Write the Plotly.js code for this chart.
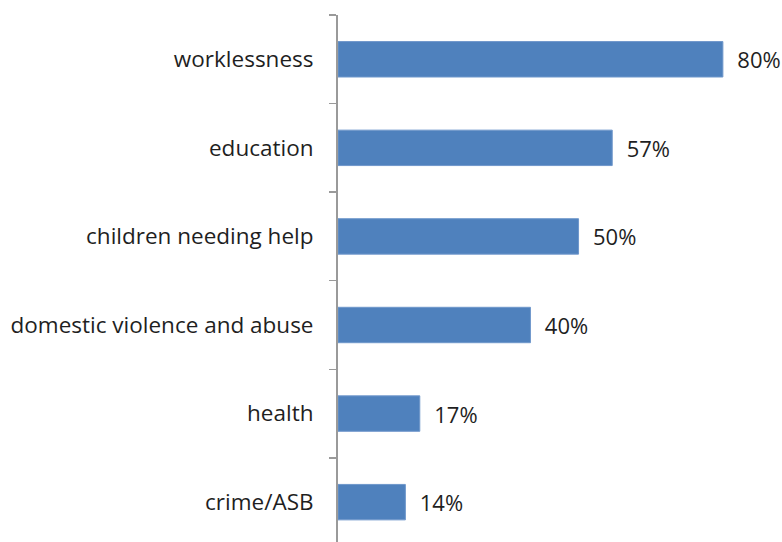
<!DOCTYPE html>
<html>
<head>
<meta charset="utf-8">
<script src="https://cdn.plot.ly/plotly-3.0.1.min.js"></script>
<style>html,body{margin:0;padding:0;background:#fff;}#chart{width:782px;height:542px;}</style>
</head>
<body>
<div id="chart"></div>
<script>
const categories = ["crime/ASB", "health", "domestic violence and abuse", "children needing help", "education", "worklessness"];
const values = [14, 17, 40, 50, 57, 80];
const labels = values.map(v => v + "%");

const FONT = "Open Sans, Liberation Sans, Arial, sans-serif";

const trace = {
  type: "bar",
  orientation: "h",
  y: categories,
  x: values,
  text: labels,
  texttemplate: "  %{text}",
  textposition: "outside",
  cliponaxis: false,
  textfont: {family: FONT, size: 22, color: "#1f1f1f"},
  marker: {color: "#4f81bd", line: {color: "#6f97cb", width: 1}},
  width: 0.4,
  hoverinfo: "none"
};

const layout = {
  width: 782,
  height: 542,
  margin: {l: 338, r: 11, t: 15, b: 0, pad: 0},
  paper_bgcolor: "#ffffff",
  plot_bgcolor: "#ffffff",
  showlegend: false,
  font: {family: FONT, size: 22, color: "#1f1f1f"},
  xaxis: {
    range: [0, 90],
    visible: false,
    showgrid: false,
    zeroline: false
  },
  yaxis: {
    type: "category",
    range: [-0.45, 5.5],
    showline: true,
    linecolor: "#9a9a9a",
    linewidth: 2,
    ticks: "outside",
    tickson: "boundaries",
    ticklen: 7,
    tickwidth: 1.5,
    tickcolor: "#9a9a9a",
    ticklabelstandoff: 18,
    showgrid: false,
    zeroline: false,
    tickfont: {family: FONT, size: 22.5, color: "#1f1f1f"}
  }
};

Plotly.newPlot("chart", [trace], layout, {displayModeBar: false, staticPlot: true});
</script>
</body>
</html>
